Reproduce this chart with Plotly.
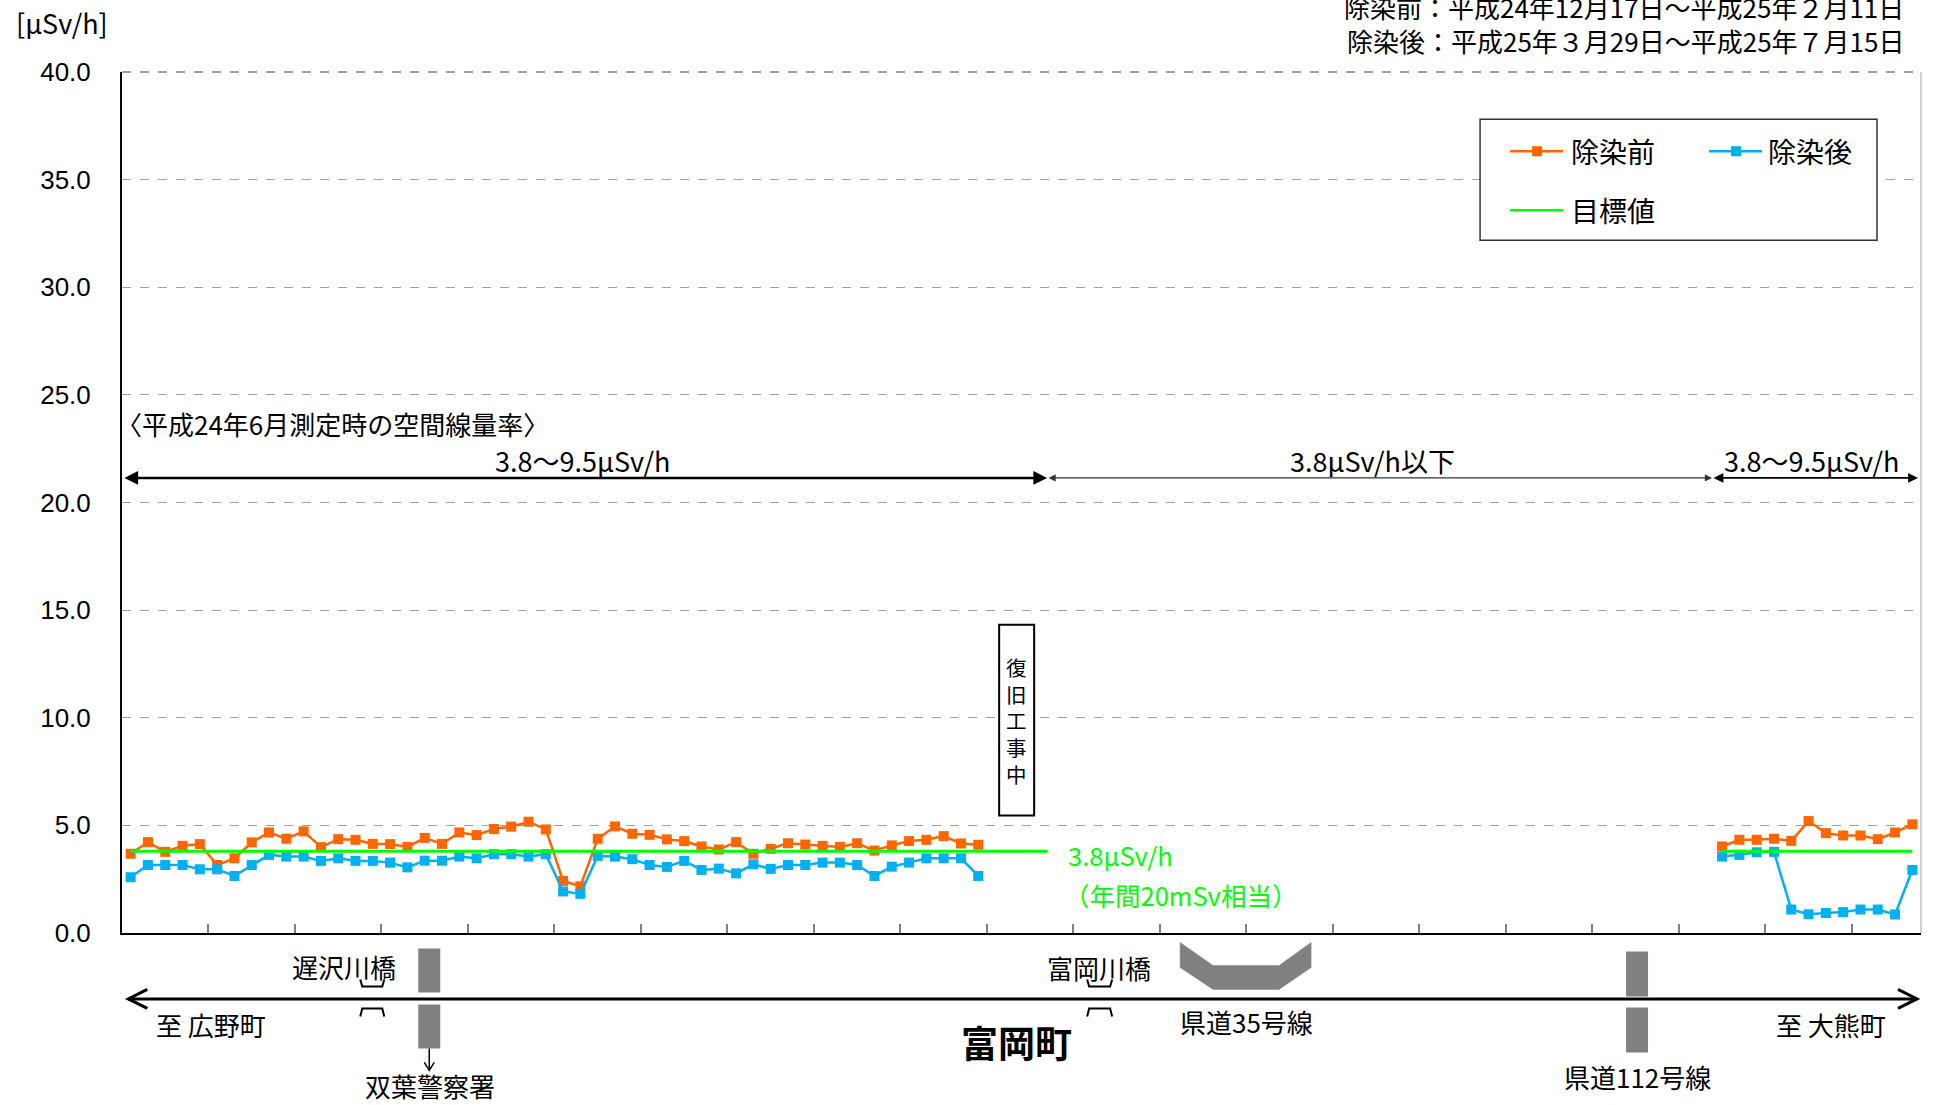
import plotly.graph_objects as go

# ---------------- data ----------------
points_left = list(range(1, 51))
points_right = list(range(93, 105))

before_left = [3.68, 4.22, 3.77, 4.05, 4.13, 3.16, 3.47, 4.21, 4.67, 4.38,
               4.72, 3.99, 4.36, 4.33, 4.14, 4.13, 4.00, 4.42, 4.14, 4.67,
               4.55, 4.83, 4.94, 5.17, 4.81, 2.42, 2.17, 4.38, 4.95, 4.61,
               4.56, 4.35, 4.27, 4.02, 3.88, 4.22, 3.68, 3.91, 4.17, 4.11,
               4.05, 4.00, 4.17, 3.83, 4.07, 4.27, 4.33, 4.50, 4.16, 4.10]
after_left = [2.59, 3.16, 3.16, 3.16, 2.96, 2.96, 2.65, 3.16, 3.63, 3.55,
              3.55, 3.35, 3.47, 3.35, 3.35, 3.27, 3.05, 3.36, 3.36, 3.55,
              3.47, 3.66, 3.66, 3.55, 3.66, 1.93, 1.82, 3.58, 3.55, 3.43,
              3.16, 3.07, 3.35, 2.93, 2.99, 2.77, 3.19, 2.98, 3.16, 3.16,
              3.27, 3.27, 3.16, 2.65, 3.08, 3.27, 3.47, 3.47, 3.47, 2.65]
before_right = [4.02, 4.33, 4.33, 4.38, 4.28, 5.20, 4.64, 4.53, 4.53, 4.36, 4.67, 5.05]
after_right = [3.55, 3.63, 3.75, 3.77, 1.09, 0.87, 0.93, 0.97, 1.09, 1.09, 0.86, 2.93]

target_value = 3.8
target_left_x = [1, 54]
target_right_x = [93, 104]

y_ticks = [0, 5, 10, 15, 20, 25, 30, 35, 40]

C_BEFORE = "#FF6600"
C_AFTER = "#00B0F0"
C_TARGET = "#00FF00"
GRAY = "#808080"
JP = "Noto Sans CJK JP"

# ---------------- geometry helpers (pixel -> paper) ----------------
FW, FH = 1945, 1105
L, R, T, B = 121.7, 1921.0, 71.7, 933.5
W, H = R - L, B - T


def PX(px):
    return (px - L) / W


def PY(py):
    return (B - py) / H


fig = go.Figure()

line_style = dict(width=2.5)
for xs, ys, col, nm in ((points_left, before_left, C_BEFORE, "除染前"),
                        (points_right, before_right, C_BEFORE, "除染前"),
                        (points_left, after_left, C_AFTER, "除染後"),
                        (points_right, after_right, C_AFTER, "除染後")):
    fig.add_trace(go.Scatter(x=xs, y=ys, mode="lines+markers",
                             line=dict(color=col, **line_style),
                             marker=dict(symbol="square", size=10, color=col),
                             showlegend=False, name=nm))
for xs in (target_left_x, target_right_x):
    fig.add_trace(go.Scatter(x=xs, y=[target_value] * len(xs), mode="lines",
                             line=dict(color=C_TARGET, width=3),
                             showlegend=False, name="目標値"))

shapes = []
annotations = []


def text(px, py, s, size=26, color="black", xanchor="center", family=JP, align="center"):
    annotations.append(dict(xref="paper", yref="paper", x=PX(px), y=PY(py),
                            text=s, showarrow=False, xanchor=xanchor, yanchor="middle",
                            align=align,
                            font=dict(family=family, size=size, color=color)))


def seg(x0, y0, x1, y1, color="black", width=2, dash=None):
    ln = dict(color=color, width=width)
    if dash:
        ln["dash"] = dash
    shapes.append(dict(type="line", xref="paper", yref="paper",
                       x0=PX(x0), y0=PY(y0), x1=PX(x1), y1=PY(y1), line=ln))


def rect(x0, y0, x1, y1, fill=GRAY, lc=None, lw=0):
    shapes.append(dict(type="rect", xref="paper", yref="paper",
                       x0=PX(x0), y0=PY(y0), x1=PX(x1), y1=PY(y1),
                       fillcolor=fill, line=dict(color=lc or fill, width=lw)))


def path(pts, color="black", width=2, fill=None, closed=False):
    d = "M " + " L ".join(f"{PX(a):.5f},{PY(b):.5f}" for a, b in pts)
    if closed:
        d += " Z"
    shapes.append(dict(type="path", xref="paper", yref="paper", path=d,
                       line=dict(color=color, width=width),
                       fillcolor=fill if fill else "rgba(0,0,0,0)"))


# frame details
seg(L, T, R, T, color="#404040", width=1, dash="dash")
seg(R, T, R, B, color="#A0A0A0", width=1)

# ---------------- annotations inside the plot ----------------
text(114, 424, "〈平成24年6月測定時の空間線量率〉", size=26, xanchor="left")
text(582, 461, "3.8〜9.5μSv/h", size=27)
text(1372, 461, "3.8μSv/h以下", size=27)
text(1811, 461, "3.8〜9.5μSv/h", size=27)


def dbl_arrow(x0, x1, py, width, color):
    annotations.append(dict(xref="paper", yref="paper", x=PX(x1), y=PY(py),
                            axref="pixel", ayref="pixel", ax=-(x1 - x0), ay=0,
                            text="", showarrow=True, arrowside="end+start",
                            arrowhead=2, startarrowhead=2, arrowsize=1.1,
                            startarrowsize=1.1, arrowwidth=width, arrowcolor=color,
                            standoff=0, startstandoff=0))


dbl_arrow(L + 1, 1047, 478, 2.5, "black")
dbl_arrow(1047, 1712, 478, 1.3, "#333333")
dbl_arrow(1712, 1918, 478, 1.8, "black")

# construction box
rect(999, 625, 1034, 816, fill="white", lc="black", lw=2)
text(1016.5, 721, "復<br>旧<br>工<br>事<br>中", size=20.5)

# target label
text(1066, 855, "3.8μSv/h", size=25.5, color=C_TARGET, xanchor="left")
text(1062, 895, "（年間20mSv相当）", size=25.5, color=C_TARGET, xanchor="left")

# ---------------- legend (drawn) ----------------
rect(1480, 119, 1877, 240, fill="white", lc="#333333", lw=1.5)
seg(1510, 151, 1563, 151, color=C_BEFORE, width=2.5)
rect(1532, 146, 1542, 156, fill=C_BEFORE)
text(1569, 151, "除染前", size=28, xanchor="left")
seg(1709, 151, 1762, 151, color=C_AFTER, width=2.5)
rect(1731, 146, 1741, 156, fill=C_AFTER)
text(1766, 151, "除染後", size=28, xanchor="left")
seg(1510, 210, 1563, 210, color=C_TARGET, width=2.5)
text(1569, 210, "目標値", size=28, xanchor="left")

# ---------------- header texts ----------------
text(14, 22, "[μSv/h]", size=27, xanchor="left")
text(1906, 6, "除染前：平成24年12月17日〜平成25年２月11日", size=26, xanchor="right")
text(1906, 40, "除染後：平成25年３月29日〜平成25年７月15日", size=26, xanchor="right")

# ---------------- road diagram below the plot ----------------
ROAD_Y = 999.5
seg(128, ROAD_Y, 1917, ROAD_Y, color="black", width=3)
path([(147, 990), (128, ROAD_Y), (147, 1009)], width=3)
path([(1898, 990), (1917, ROAD_Y), (1898, 1009)], width=3)

# bridges
for bx0, bx1 in ((360, 384), (1087, 1112)):
    path([(bx0, 980), (bx0 + 2, 987), (bx1 - 2, 987), (bx1, 980)], width=2)
    path([(bx0, 1017), (bx0 + 2, 1009), (bx1 - 2, 1009), (bx1, 1017)], width=2)

# crossings
rect(418, 949, 440, 993)
rect(418, 1005, 440, 1049)
seg(429, 1049, 429, 1071, width=1.5)
path([(424, 1063), (429, 1071), (434, 1063)], width=1.5)

rect(1626, 952, 1648, 997)
rect(1626, 1008, 1648, 1053)

path([(1180, 943), (1180, 968), (1213, 990), (1279, 990), (1311, 968),
      (1311, 943), (1279, 966), (1213, 966)], color=GRAY, width=0.5,
     fill=GRAY, closed=True)

text(344, 967, "遅沢川橋")
text(211, 1025, "至 広野町")
text(430, 1086, "双葉警察署")
text(1099, 968, "富岡川橋")
text(1016, 1043, "<b>富岡町</b>", size=37)
text(1246, 1022, "県道35号線")
text(1637, 1077, "県道112号線")
text(1831, 1025, "至 大熊町")

fig.update_layout(
    width=FW, height=FH,
    margin=dict(l=L, r=FW - R, t=T, b=FH - B, pad=0),
    paper_bgcolor="white", plot_bgcolor="white",
    showlegend=False,
    shapes=shapes, annotations=annotations,
    xaxis=dict(range=[0.5, 104.5], showgrid=False, zeroline=False,
               showline=True, linecolor="black", linewidth=2,
               ticks="inside", tick0=0.5, dtick=5, ticklen=9, tickwidth=1.5,
               tickcolor=GRAY, showticklabels=False),
    yaxis=dict(range=[0, 40], tickvals=y_ticks, ticktext=[f"{v:.1f}" for v in y_ticks],
               showgrid=True, gridcolor="#A0A0A0", griddash="dash", gridwidth=1,
               zeroline=False, showline=True, linecolor="black", linewidth=2,
               ticks="", ticklabelstandoff=24,
               tickfont=dict(family="Liberation Sans", size=26, color="black")),
)

fig.write_html("out.html", config={"displayModeBar": False},
               post_script="document.body.style.margin='0';document.body.style.overflow='hidden';")
